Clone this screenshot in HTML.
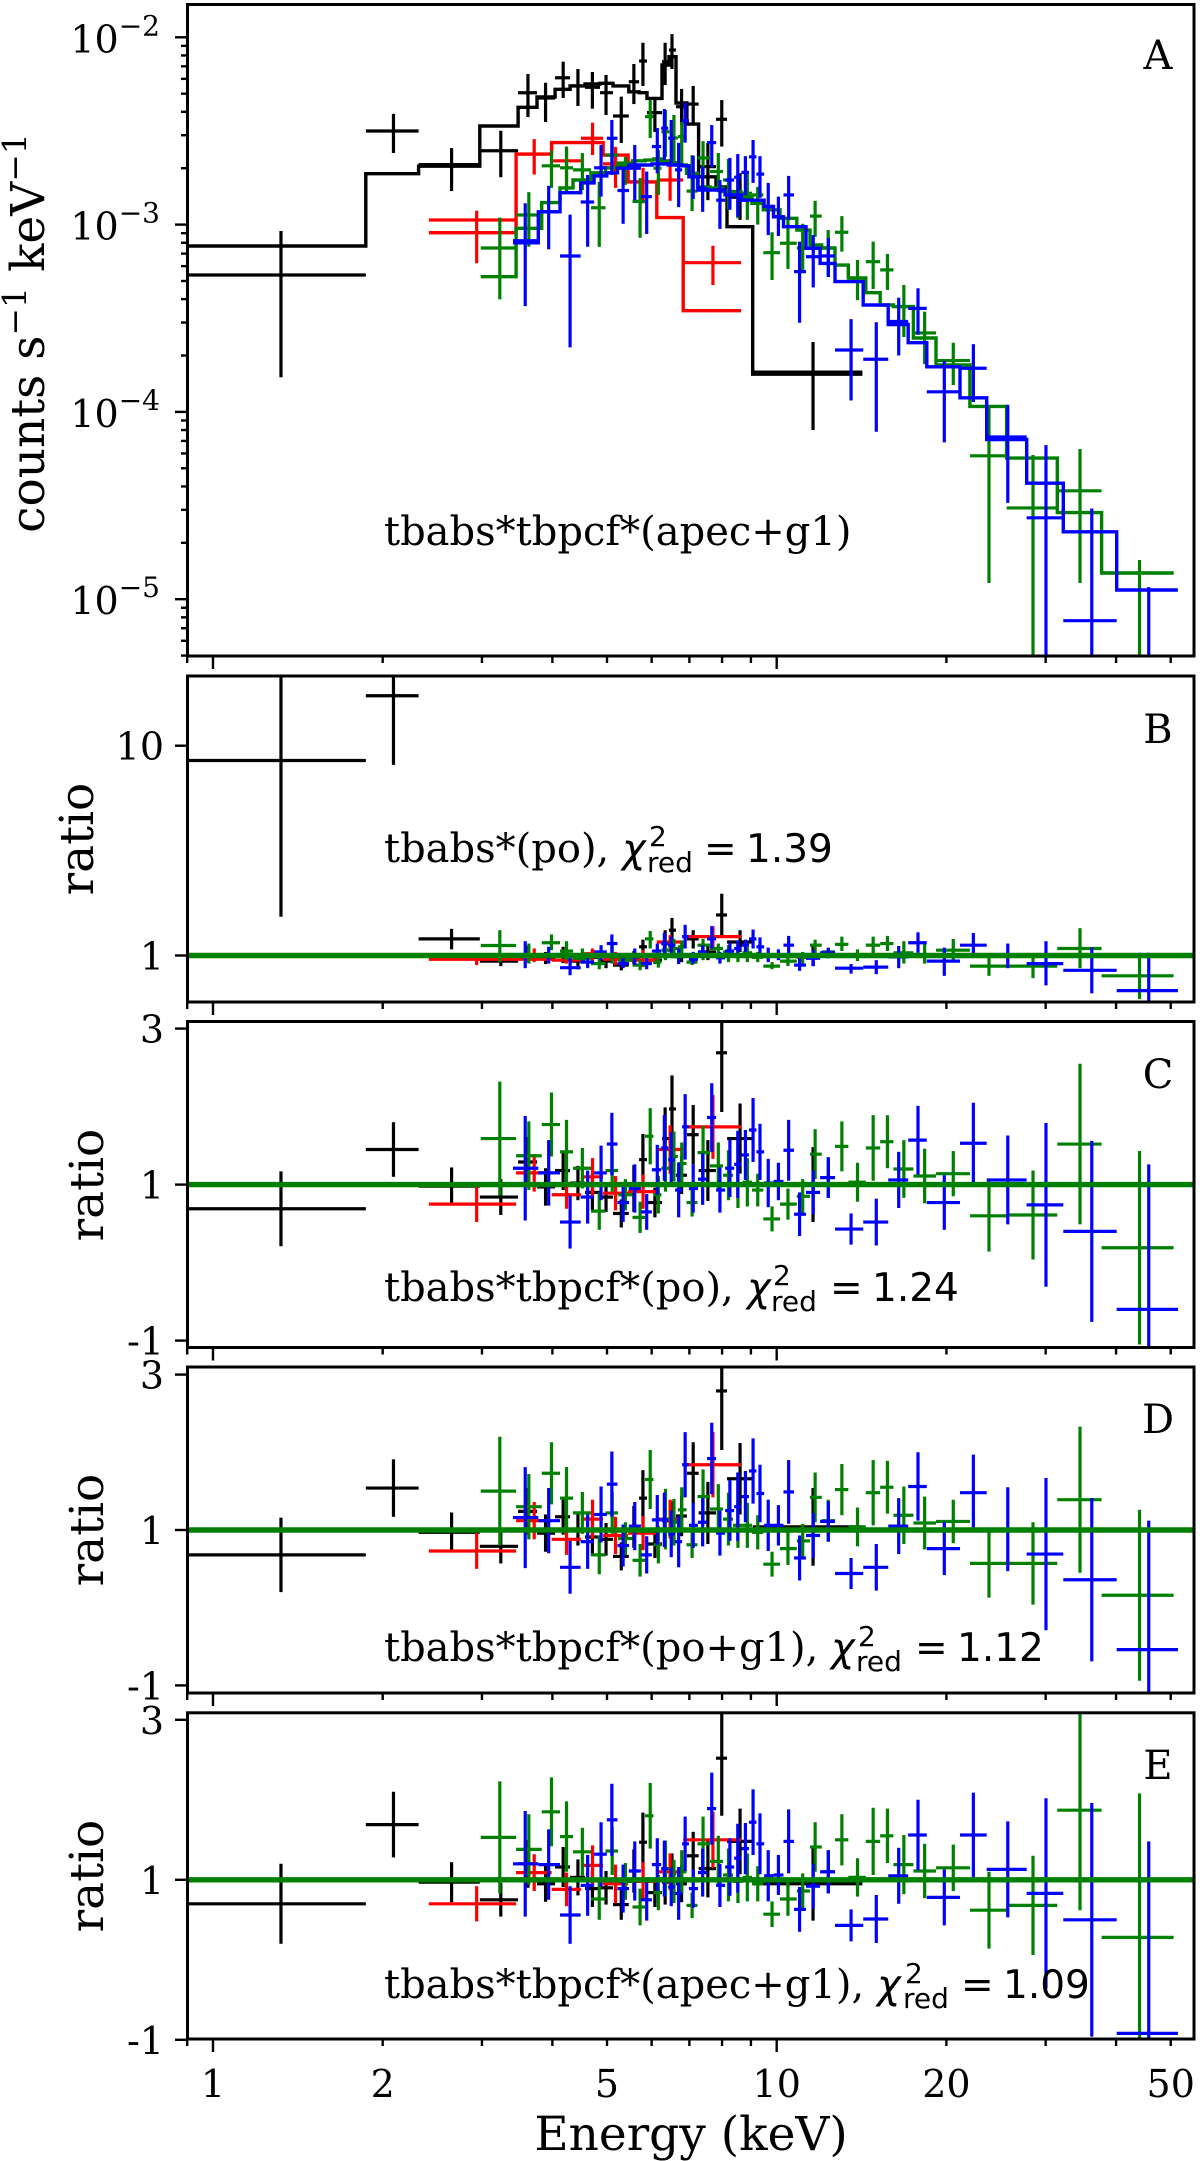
<!DOCTYPE html>
<html lang="en">
<head>
<meta charset="utf-8">
<title>X-ray spectrum and model ratio panels</title>
<style>
html,body{margin:0;padding:0;background:#fff;}
svg{display:block;}
text{font-family:"DejaVu Serif","Liberation Serif",serif;fill:#000;}
.note{font-size:40px;}
.letter{font-size:40px;text-anchor:middle;}
.axis-title{font-size:47px;}
.tick-label{font-size:38px;}
.sans{font-family:"DejaVu Sans","Liberation Sans",sans-serif;}
.chi{font-family:"DejaVu Sans","Liberation Sans",sans-serif;font-style:italic;}
.note.sans{font-size:39px;}
</style>
</head>
<body>
<svg id="chart" xmlns="http://www.w3.org/2000/svg" width="1200" height="2161" viewBox="0 0 1200 2161">
<defs>
<clipPath id="clip-a"><rect x="187.5" y="4.5" width="1006.5" height="651.5"/></clipPath>
<clipPath id="clip-b"><rect x="187.5" y="676" width="1006.5" height="326"/></clipPath>
<clipPath id="clip-c"><rect x="187.5" y="1021.5" width="1006.5" height="326"/></clipPath>
<clipPath id="clip-d"><rect x="187.5" y="1367" width="1006.5" height="326"/></clipPath>
<clipPath id="clip-e"><rect x="187.5" y="1712.8" width="1006.5" height="326.2"/></clipPath>
</defs>
<rect x="0" y="0" width="1200" height="2161" fill="#fff"/>
<g id="marks-a" clip-path="url(#clip-a)"></g>
<g id="marks-b" clip-path="url(#clip-b)"></g>
<g id="marks-c" clip-path="url(#clip-c)"></g>
<g id="marks-d" clip-path="url(#clip-d)"></g>
<g id="marks-e" clip-path="url(#clip-e)"></g>
<g id="ticks"></g>
<g fill="none" stroke="#000" stroke-width="3">
<rect x="187.5" y="4.5" width="1006.5" height="651.5"/>
<rect x="187.5" y="676" width="1006.5" height="326"/>
<rect x="187.5" y="1021.5" width="1006.5" height="326"/>
<rect x="187.5" y="1367" width="1006.5" height="326"/>
<rect x="187.5" y="1712.8" width="1006.5" height="326.2"/>
</g>

<text class="letter" x="1158" y="69">A</text>
<text class="letter" x="1158" y="743">B</text>
<text class="letter" x="1158" y="1088">C</text>
<text class="letter" x="1158" y="1433">D</text>
<text class="letter" x="1158" y="1779">E</text>

<text class="note" x="384" y="545">tbabs*tbpcf*(apec+g1)</text>

<g>
<text class="note" x="384" y="862">tbabs*(po),</text>
<text class="note chi" x="622" y="862">χ</text>
<text class="sans" font-size="28" x="649" y="846">2</text>
<text class="sans" font-size="28" x="647" y="872">red</text>
<text class="note sans" x="704" y="862">=</text>
<text class="note sans" x="746" y="862">1.39</text>
</g>
<g>
<text class="note" x="384" y="1301">tbabs*tbpcf*(po),</text>
<text class="note chi" x="747" y="1301">χ</text>
<text class="sans" font-size="28" x="773" y="1285">2</text>
<text class="sans" font-size="28" x="771" y="1311">red</text>
<text class="note sans" x="830" y="1301">=</text>
<text class="note sans" x="872" y="1301">1.24</text>
</g>
<g>
<text class="note" x="384" y="1661">tbabs*tbpcf*(po+g1),</text>
<text class="note chi" x="831" y="1661">χ</text>
<text class="sans" font-size="28" x="858" y="1646">2</text>
<text class="sans" font-size="28" x="856" y="1671">red</text>
<text class="note sans" x="915" y="1661">=</text>
<text class="note sans" x="957" y="1661">1.12</text>
</g>
<g>
<text class="note" x="384" y="1998">tbabs*tbpcf*(apec+g1),</text>
<text class="note chi" x="877" y="1998">χ</text>
<text class="sans" font-size="28" x="905" y="1983">2</text>
<text class="sans" font-size="28" x="903" y="2008">red</text>
<text class="note sans" x="961" y="1998">=</text>
<text class="note sans" x="1003" y="1998">1.09</text>
</g>

<text class="axis-title" transform="translate(44,333) rotate(-90)" text-anchor="middle">counts s<tspan font-size="33" dy="-18">−1</tspan><tspan dy="18"> keV</tspan><tspan font-size="33" dy="-18">−1</tspan></text>
<text class="axis-title" transform="translate(93,839) rotate(-90)" text-anchor="middle">ratio</text>
<text class="axis-title" transform="translate(103,1185) rotate(-90)" text-anchor="middle">ratio</text>
<text class="axis-title" transform="translate(103,1530) rotate(-90)" text-anchor="middle">ratio</text>
<text class="axis-title" transform="translate(103,1876) rotate(-90)" text-anchor="middle">ratio</text>
<text class="axis-title" x="691" y="2150" text-anchor="middle">Energy (keV)</text>
</svg>

<script>
// ---- axis tick data ----
const xMajorTicks = [1, 10];
const xMinorTicks = [0.9, 2, 3, 4, 5, 6, 7, 8, 9, 20, 30, 40, 50];
const xTickLabels = [1, 2, 5, 10, 20, 50];
const fluxDecades = [-2, -3, -4, -5];
const fluxMinorFactors = [2, 3, 4, 5, 6, 7, 8, 9];
const ratioLogTicks = [10, 1];
const ratioLinearTicks = [3, 1, -1];

// ---- black series (flux in units of 1e-3 counts/s/keV) ----
const blackEnergy = [1.32,2.09,2.65,3.24,3.62,3.89,4.18,4.44,4.71,4.98,5.30,5.58,5.79,6.08,6.34,6.52,6.78,7.11,7.55,7.99,8.61,11.60];
const blackEdges = [0.88,1.867,2.316,2.974,3.477,3.757,4.044,4.30,4.57,4.859,5.124,5.465,5.70,5.887,6.26,6.44,6.627,6.93,7.27,7.805,8.164,9.068,14.19];
const blackFlux = [.538,3.16,2.09,2.48,5.06,4.74,6.08,5.50,5.41,5.06,3.80,5.79,7.47,3.96,7.41,8.55,4.26,4.40,2.04,3.65,1.40,.163];
const blackFluxLow = [.153,2.41,1.51,1.79,3.75,3.53,4.74,4.30,4.16,3.85,2.73,4.40,5.50,3.12,5.56,6.77,3.40,3.44,1.35,2.61,1.06,.080];
const blackFluxHigh = [.925,3.9,2.56,3.17,6.37,5.72,7.41,6.77,6.53,6.29,4.82,7.2,9.35,4.80,9.35,10.4,5.30,5.50,2.73,4.62,1.88,.236];
const blackModel = [.769,1.87,2.05,3.36,4.23,4.80,5.28,5.50,5.63,5.68,5.50,5.12,5.06,4.72,7.11,7.88,4.46,3.44,1.80,1.59,.975,.159];
const blackRatioB = [8.5,17.3,1.20,.94,1.01,.97,1.01,.94,.98,.94,.90,.96,1.10,.95,1.14,1.32,1.01,1.2,1.04,1.56,1.16,1.0];
const blackLowB = [1.53,8.1,1.07,.89,.93,.91,.92,.86,.91,.87,.85,.91,1.0,.91,1.04,1.15,.93,1.08,.95,1.24,1.04,.89];
const blackHighB = [30,30,1.34,1.02,1.11,1.04,1.10,1.01,1.07,1.02,.96,1.05,1.19,1.01,1.32,1.51,1.10,1.32,1.12,1.97,1.32,1.12];
const blackRatioC = [.69,1.45,.98,.84,1.29,.97,1.18,1.02,.9,.84,.63,.95,1.32,.77,1.59,1.97,1.12,1.64,1.18,2.69,1.59,1.0];
const blackErrC = [.48,.35,.24,.23,.32,.24,.25,.22,.23,.19,.18,.3,.33,.19,.4,.43,.24,.38,.39,.76,.45,.48];
const blackRatioD = [.68,1.54,.97,.79,1.24,.96,1.17,1.01,.91,.88,.66,1.04,1.41,.82,1.12,1.1,1.18,1.73,1.22,2.79,1.66,1.04];
const blackErrD = [.48,.37,.255,.22,.3,.24,.23,.21,.24,.21,.18,.27,.36,.18,.24,.27,.26,.4,.4,.76,.46,.5];
const blackRatioE = [.70,1.69,.97,.75,1.2,.95,1.16,1.03,.89,.9,.69,1.11,1.47,.84,.97,1.08,.95,1.3,1.14,2.52,1.48,.95];
const blackErrE = [.5,.41,.25,.21,.3,.225,.25,.225,.23,.21,.19,.27,.37,.18,.28,.25,.23,.3,.36,.72,.41,.46];

// ---- red series ----
const redEnergy = [2.936,3.714,4.238,4.713,5.177,5.794,6.47,7.707];
const redEdges = [2.415,3.449,3.988,4.495,4.92,5.45,6.127,6.825,8.647];
const redFlux = [1.058,2.38,2.19,2.89,2.11,1.69,1.73,.626];
const redFluxLow = [.622,1.85,1.53,2.35,1.57,1.30,1.34,.476];
const redFluxHigh = [1.186,2.86,2.60,3.50,2.60,2.01,2.04,.771];
const redModel = [.905,2.38,2.74,2.74,2.35,1.69,1.09,.347];
const redRatioB = [.96,.96,.95,1.02,.96,.95,1.16,1.23];
const redLowB = [.9,.93,.915,.93,.9,.88,1.04,1.08];
const redHighB = [1.02,1.08,1.0,1.08,1.04,1.06,1.25,1.38];
const redRatioC = [.75,1.15,.87,1.10,.89,.91,1.45,1.74];
const redErrC = [.23,.24,.18,.24,.22,.22,.31,.41];
const redRatioD = [.73,1.12,.88,1.14,.93,.96,1.14,1.84];
const redErrD = [.23,.24,.2,.25,.24,.22,.25,.42];
const redRatioE = [.70,1.09,.88,1.18,.95,.98,1.10,1.50];
const redErrE = [.22,.23,.21,.25,.24,.24,.23,.35];

// ---- green series ----
const greenEnergy = [3.227,3.633,3.985,4.238,4.521,4.844,5.107,5.39,5.723,5.965,6.167,6.349,6.572,6.785,7.078,7.402,7.878,8.212,8.536,8.87,9.255,9.812,10.47,11.12,11.70,12.34,13.05,13.91,14.83,15.72,16.81,18.3,20.57,23.8,28.49,34.52,44.02];
const greenEdges = [2.985,3.449,3.83,4.127,4.352,4.684,4.969,5.231,5.549,5.84,6.045,6.245,6.452,6.68,6.918,7.235,7.616,8.032,8.367,8.705,9.042,9.468,10.135,10.856,11.455,12.02,12.69,13.4,14.39,15.26,16.11,17.48,19.17,22.02,25.58,31.46,37.7,50.6];
const greenFlux = [.75,1.125,2.06,2.01,1.96,1.23,2.35,2.08,1.33,3.77,2.0,3.13,2.90,2.95,1.51,2.27,1.92,1.73,1.50,1.47,1.44,.708,.795,.75,1.11,.75,.91,.517,.634,.573,.365,.264,.188,.0583,.0307,.0379,.0138];
const greenFluxLow = [.399,.762,1.57,1.50,1.53,.76,1.88,1.63,.85,2.90,1.44,2.30,2.16,2.03,1.18,1.79,1.49,1.20,1.08,1.06,1.0,.506,.58,.558,.861,.525,.717,.395,.453,.448,.251,.18,.139,.0122,.003,.0122,.003];
const greenFluxHigh = [1.09,1.49,2.48,2.61,2.41,1.69,2.83,2.30,1.77,4.62,2.50,4.09,3.85,3.53,2.35,2.79,2.41,2.24,1.84,1.88,1.59,.91,1.10,1.01,1.34,.935,1.11,.647,.811,.697,.476,.343,.234,.106,.0589,.0634,.0162];
const greenModel = [.527,.955,1.31,1.57,1.73,1.89,2.01,2.13,2.19,2.21,2.24,2.19,2.14,2.08,1.88,1.59,1.57,1.50,1.44,1.41,1.30,1.20,1.08,.935,.778,.75,.608,.519,.433,.372,.365,.248,.178,.107,.0567,.029,.0138];
const greenRatioB = [1.116,1.01,1.15,1.05,.97,.915,1.01,.95,.9,1.2,.93,1.06,1.08,1.1,.93,1.12,1.08,1.04,1.0,1.03,.98,.89,.94,.98,1.12,1.04,1.13,1.0,1.12,1.14,1.03,1.01,1.06,.89,.89,1.08,.8];
const greenLowB = [.93,.915,1.06,.95,.915,.86,.915,.9,.85,1.08,.875,.95,.97,1.0,.9,.95,.97,.93,.93,.93,.93,.86,.89,.915,1.01,.97,1.05,.94,1.01,1.05,.915,.915,.94,.8,.78,.87,.62];
const greenHighB = [1.32,1.14,1.26,1.17,1.08,.97,1.14,1.02,.95,1.31,1.0,1.18,1.2,1.18,.98,1.2,1.14,1.12,1.1,1.1,1.04,.93,1.0,1.04,1.19,1.08,1.23,1.07,1.23,1.24,1.17,1.14,1.2,1.0,1.0,1.35,1.03];
const greenRatioC = [1.59,1.37,1.77,1.42,1.21,.66,1.18,.87,.58,1.62,.87,1.21,1.36,1.27,.77,1.41,1.24,1.12,1.0,1.03,.93,.56,.75,.85,1.39,1.09,1.49,1.03,1.47,1.55,1.2,1.11,1.14,.6,.61,1.52,.19];
const greenErrC = [.73,.44,.41,.41,.26,.24,.27,.2,.2,.36,.24,.3,.32,.27,.18,.34,.3,.32,.3,.31,.21,.16,.2,.22,.32,.26,.32,.25,.42,.34,.37,.35,.29,.46,.57,1.03,1.24];
const greenRatioD = [1.5,1.3,1.73,1.41,1.22,.68,1.22,.89,.61,1.65,.81,1.14,1.1,1.26,.81,1.43,1.27,1.14,1.06,1.06,.97,.56,.76,.86,1.42,1.12,1.52,1.04,1.48,1.55,1.19,1.09,1.11,.57,.57,1.39,.16];
const greenErrD = [.7,.42,.4,.4,.27,.25,.27,.21,.21,.38,.24,.39,.3,.29,.17,.35,.32,.34,.29,.29,.22,.16,.21,.22,.32,.27,.33,.25,.42,.34,.37,.34,.28,.44,.53,.94,1.1];
const greenRatioE = [1.53,1.38,1.85,1.54,1.35,.76,1.36,.98,.66,1.8,.84,1.14,.98,1.1,.68,1.45,1.23,1.06,.98,1.03,.95,.57,.76,.86,1.41,1.1,1.5,1.03,1.48,1.55,1.19,1.11,1.15,.62,.68,1.87,.28];
const greenErrE = [.7,.44,.43,.44,.3,.26,.3,.23,.23,.41,.22,.35,.27,.27,.16,.34,.32,.33,.27,.3,.22,.16,.21,.22,.31,.27,.32,.24,.42,.34,.37,.34,.29,.48,.62,1.25,1.8];

// ---- blue series ----
const blueEnergy = [3.58,3.94,4.30,4.62,4.88,5.10,5.34,5.60,5.88,6.14,6.32,6.50,6.70,6.88,7.11,7.39,7.67,7.93,8.26,8.53,8.80,9.08,9.34,9.66,10.07,10.50,10.98,11.61,12.35,13.55,15.02,16.46,17.81,19.83,22.33,25.70,30.04,36.22,45.71];
const blueEdges = [3.405,3.776,4.127,4.49,4.743,4.996,5.218,5.47,5.743,6.006,6.238,6.42,6.603,6.795,6.987,7.25,7.524,7.808,8.10,8.405,8.658,8.93,9.205,9.50,9.872,10.28,10.735,11.27,11.94,12.69,14.24,15.77,17.11,18.46,21.14,23.58,27.76,32.24,40.1,51.5];
const blueFlux = [.82,1.17,.68,1.32,2.01,2.89,1.52,2.0,1.41,2.61,3.27,2.89,1.96,3.59,1.80,1.56,2.74,1.35,1.73,1.79,1.90,2.30,1.86,1.25,1.10,1.44,.561,.674,.68,.214,.191,.304,.357,.128,.171,.0735,.0272,.00768,.0037];
const blueFluxLow = [.367,.738,.221,.762,1.41,1.84,1.01,1.35,.891,1.88,2.21,2.13,1.24,2.74,1.37,1.17,2.03,.948,1.20,1.10,1.44,1.67,1.39,.879,.869,1.06,.299,.462,.525,.115,.0783,.2,.258,.0688,.113,.0327,.003,.003,.002];
const blueFluxHigh = [1.30,1.61,1.13,1.84,2.66,3.62,2.04,2.66,1.92,3.28,4.14,3.62,2.73,4.47,2.33,2.04,3.40,1.73,2.27,2.38,2.32,2.83,2.32,1.67,1.41,1.82,.811,.879,.847,.313,.301,.407,.457,.187,.23,.109,.0665,.0305,.0116];
const blueModel = [.80,1.17,1.48,1.67,1.82,1.89,2.0,2.08,2.08,2.11,2.11,2.08,2.08,2.06,1.80,1.53,1.53,1.53,1.44,1.44,1.35,1.35,1.35,1.25,1.10,.975,.975,.747,.621,.496,.372,.293,.234,.174,.119,.0712,.0416,.0229,.0112];
const blueRatioB = [1.01,.99,.875,.93,1.04,1.14,.915,.985,.915,1.05,1.14,1.12,.985,1.23,.96,1.04,1.2,.975,1.05,1.08,1.12,1.2,1.1,1.01,1.0,1.12,.9,.97,1.03,.87,.88,.985,1.15,.94,1.12,1.0,.915,.85,.68];
const blueLowB = [.87,.915,.805,.87,.95,1.01,.87,.9,.86,.98,1.02,1.02,.91,1.08,.915,.97,1.08,.915,.98,.985,1.04,1.08,1.0,.93,.95,1.0,.845,.89,.97,.82,.815,.87,1.03,.8,1.0,.87,.72,.66,.53];
const blueHighB = [1.17,1.1,.98,1.0,1.12,1.26,.98,1.08,.98,1.14,1.28,1.23,1.08,1.4,1.04,1.12,1.38,1.04,1.15,1.18,1.19,1.33,1.22,1.09,1.07,1.24,.97,1.06,1.09,.91,.95,1.11,1.29,1.09,1.28,1.14,1.17,1.09,1.03];
const blueRatioC = [1.21,1.15,.52,.84,1.15,1.52,.77,.95,.65,1.19,1.47,1.32,.93,1.74,.95,1.07,1.86,.93,1.21,1.26,1.38,1.7,1.42,1.02,1.04,1.44,.62,.9,1.09,.43,.52,1.06,1.57,.77,1.53,1.06,.74,.4,-.6];
const blueErrC = [.67,.42,.34,.34,.35,.4,.25,.31,.23,.32,.42,.35,.35,.42,.31,.33,.44,.29,.37,.43,.32,.41,.36,.31,.24,.39,.28,.28,.26,.2,.3,.36,.44,.35,.52,.57,1.05,1.16,1.86];
const blueRatioD = [1.16,1.12,.52,.85,1.2,1.59,.8,1.05,.68,1.13,1.13,.95,.85,1.84,1.06,1.1,1.92,.96,1.25,1.3,1.43,1.76,1.47,1.06,1.06,1.49,.64,.93,1.11,.44,.52,1.05,1.56,.76,1.48,1.01,.69,.36,-.54];
const blueErrD = [.65,.42,.34,.35,.36,.42,.27,.31,.24,.32,.35,.3,.33,.42,.29,.31,.46,.29,.39,.44,.33,.42,.37,.33,.26,.41,.29,.29,.26,.2,.3,.36,.44,.34,.49,.54,.98,1.05,1.66];
const blueRatioE = [1.2,1.19,.56,.93,1.32,1.75,.89,1.11,.75,1.19,1.14,.91,.83,1.45,.89,1.09,1.89,.93,1.16,1.27,1.39,1.72,1.45,1.05,1.06,1.48,.63,.92,1.1,.43,.51,1.05,1.56,.78,1.56,1.13,.83,.5,-.92];
const blueErrE = [.66,.44,.36,.38,.4,.45,.3,.37,.26,.33,.35,.24,.33,.34,.24,.3,.45,.27,.36,.43,.32,.41,.38,.32,.25,.4,.28,.28,.27,.2,.3,.35,.44,.35,.53,.6,1.19,1.46,2.4];

// ---- series wiring ----
const seriesList = [
  {name:'black', color:'#000000', energy:blackEnergy, edges:blackEdges, flux:blackFlux, fluxLow:blackFluxLow, fluxHigh:blackFluxHigh, model:blackModel, ratioB:blackRatioB, lowB:blackLowB, highB:blackHighB, ratioC:blackRatioC, errC:blackErrC, ratioD:blackRatioD, errD:blackErrD, ratioE:blackRatioE, errE:blackErrE},
  {name:'red', color:'#ff0000', energy:redEnergy, edges:redEdges, flux:redFlux, fluxLow:redFluxLow, fluxHigh:redFluxHigh, model:redModel, ratioB:redRatioB, lowB:redLowB, highB:redHighB, ratioC:redRatioC, errC:redErrC, ratioD:redRatioD, errD:redErrD, ratioE:redRatioE, errE:redErrE},
  {name:'green', color:'#008000', energy:greenEnergy, edges:greenEdges, flux:greenFlux, fluxLow:greenFluxLow, fluxHigh:greenFluxHigh, model:greenModel, ratioB:greenRatioB, lowB:greenLowB, highB:greenHighB, ratioC:greenRatioC, errC:greenErrC, ratioD:greenRatioD, errD:greenErrD, ratioE:greenRatioE, errE:greenErrE},
  {name:'blue', color:'#0000ff', energy:blueEnergy, edges:blueEdges, flux:blueFlux, fluxLow:blueFluxLow, fluxHigh:blueFluxHigh, model:blueModel, ratioB:blueRatioB, lowB:blueLowB, highB:blueHighB, ratioC:blueRatioC, errC:blueErrC, ratioD:blueRatioD, errD:blueErrD, ratioE:blueRatioE, errE:blueErrE}
];

// ---- axis functions ----
const SVG_NS = 'http://www.w3.org/2000/svg';
const xScale = e => 213 + 563.7 * Math.log10(e);
const yFlux = v => 224.6 - 187.3 * Math.log10(v);   // v in 1e-3 units
const yRatioB = v => 955.5 - 209.8 * Math.log10(Math.max(v, 1e-6));
const yRatioC = v => 1184.6 - 78 * (v - 1);
const yRatioD = v => 1530 - 77.7 * (v - 1);
const yRatioE = v => 1879.8 - 80 * (v - 1);

function svgEl(tag, attrs, parent) {
  const node = document.createElementNS(SVG_NS, tag);
  for (const k in attrs) node.setAttribute(k, attrs[k]);
  parent.appendChild(node);
  return node;
}

function drawPoint(parent, color, x0, xc, x1, yv, yl, yh) {
  const g = svgEl('g', {stroke: color, 'stroke-width': 3.2, fill: 'none'}, parent);
  
  
  const h = svgEl('line', {x1: x0, x2: x1, y1: yv, y2: yv}, g);
  
  
  const v = svgEl('line', {x1: xc, x2: xc, y1: yl, y2: yh}, g);
  
  
}

function drawPanelA() {
  const root = document.getElementById('marks-a');
  seriesList.forEach(s => {
    const g = svgEl('g', {}, root);
    
    
    s.energy.forEach((e, i) => {
      drawPoint(g, s.color, xScale(s.edges[i]), xScale(e), xScale(s.edges[i + 1]), yFlux(s.flux[i]), yFlux(s.fluxLow[i]), yFlux(s.fluxHigh[i]));
    });
    const pts = [];
    s.model.forEach((m, i) => {
      pts.push(xScale(s.edges[i]).toFixed(1) + ',' + yFlux(m).toFixed(1));
      pts.push(xScale(s.edges[i + 1]).toFixed(1) + ',' + yFlux(m).toFixed(1));
    });
    const line = svgEl('polyline', {points: pts.join(' '), fill: 'none', stroke: s.color, 'stroke-width': 3.4}, g);
    
    
  });
}

function drawRatioPanel(id, scale, valueKey, lowKey, highKey, errKey) {
  const root = document.getElementById(id);
  seriesList.forEach(s => {
    const g = svgEl('g', {}, root);
    
    
    s.energy.forEach((e, i) => {
      const v = s[valueKey][i];
      const lo = errKey ? v - s[errKey][i] : s[lowKey][i];
      const hi = errKey ? v + s[errKey][i] : s[highKey][i];
      drawPoint(g, s.color, xScale(s.edges[i]), xScale(e), xScale(s.edges[i + 1]), scale(v), scale(lo), scale(hi));
    });
  });
  const ref = svgEl('line', {x1: 187.5, x2: 1194, y1: scale(1), y2: scale(1), stroke: '#008000', 'stroke-width': 5.4}, root);
  
  
}

function tickLine(x1, y1, x2, y2) {
  const t = svgEl('line', {x1: x1, y1: y1, x2: x2, y2: y2, stroke: '#000', 'stroke-width': 2.4}, document.getElementById('ticks'));
  
  
}

function tickText(x, y, anchor, str) {
  const t = svgEl('text', {x: x, y: y, 'text-anchor': anchor, class: 'tick-label'}, document.getElementById('ticks'));
  
  
  t.textContent = str;
  return t;
}

function drawTicks() {
  const bottoms = [656, 1002, 1347.5, 1693, 2039];
  bottoms.forEach(b => {
    xMajorTicks.forEach(e => tickLine(xScale(e), b, xScale(e), b + 13));
    xMinorTicks.forEach(e => tickLine(xScale(e), b, xScale(e), b + 7));
  });
  xTickLabels.forEach(e => tickText(xScale(e), 2097, 'middle', String(e)));

  fluxDecades.forEach(d => {
    const yc = yFlux(Math.pow(10, d + 3));
    tickLine(187.5, yc, 175, yc);
    const label = svgEl('text', {x: 160, y: yc + 15, 'text-anchor': 'end', class: 'tick-label'}, document.getElementById('ticks'));
    
    
    label.textContent = '10';
    const sup = svgEl('tspan', {'font-size': 28, dy: -17}, label);
    sup.textContent = '\u2212' + Math.abs(d);
    fluxMinorFactors.forEach(f => {
      const y = yFlux(f * Math.pow(10, d + 3));
      if (y > 5 && y < 656) tickLine(187.5, y, 181, y);
    });
    const below = d - 1;
    fluxMinorFactors.forEach(f => {
      const y = yFlux(f * Math.pow(10, below + 3));
      if (d === -5 && y > 5 && y < 656) tickLine(187.5, y, 181, y);
    });
  });

  ratioLogTicks.forEach(v => {
    const y = yRatioB(v);
    tickLine(187.5, y, 175, y);
    tickText(164, y + 14, 'end', String(v));
  });
  [yRatioC, yRatioD, yRatioE].forEach(scale => {
    ratioLinearTicks.forEach(v => {
      const y = scale(v);
      tickLine(187.5, y, 175, y);
      tickText(164, y + 14, 'end', String(v));
    });
  });
}

drawPanelA();
drawRatioPanel('marks-b', yRatioB, 'ratioB', 'lowB', 'highB', null);
drawRatioPanel('marks-c', yRatioC, 'ratioC', null, null, 'errC');
drawRatioPanel('marks-d', yRatioD, 'ratioD', null, null, 'errD');
drawRatioPanel('marks-e', yRatioE, 'ratioE', null, null, 'errE');
drawTicks();
</script>
</body>
</html>
